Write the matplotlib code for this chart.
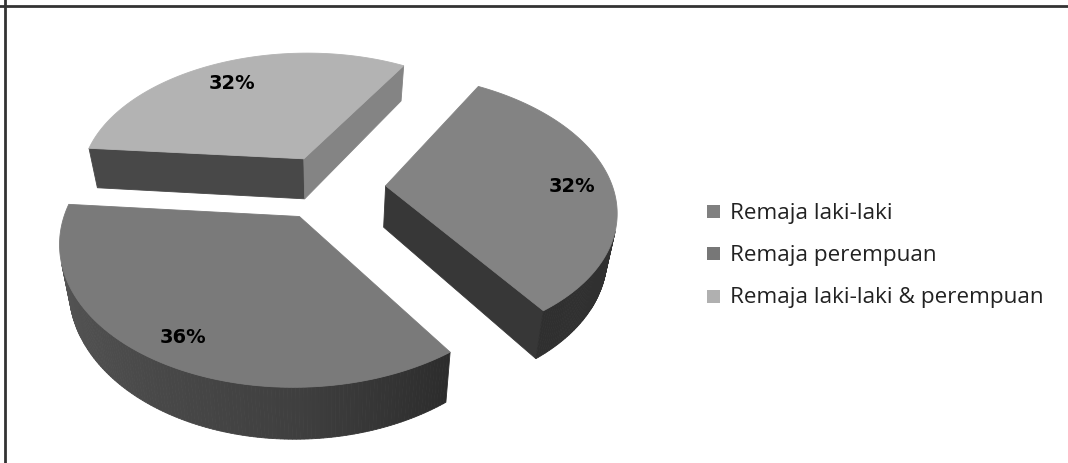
import numpy as np
import matplotlib
matplotlib.use("Agg")
import matplotlib.pyplot as plt
from matplotlib.patches import Polygon, Rectangle
from matplotlib.lines import Line2D

labels = ["Remaja laki-laki", "Remaja perempuan", "Remaja laki-laki & perempuan"]
values = [32, 36, 32]
top_colors = ["#838383", "#7a7a7a", "#b3b3b3"]
legend_colors = ["#808080", "#777777", "#b0b0b0"]

# view / geometry settings (pixels)
CX, CY = 329, 187      # pie centre on screen
R = 227                # radius
S = 0.58               # vertical squash of the tilted disc
P = 0.165              # perspective strength
H = 41.5               # thickness
K = 0.965              # vertical edges lean inwards towards the bottom
EXPLODE = 0.25
START = 59.8           # first slice starts here, slices run clockwise


def proj(x, y, z):
    # z = 0 top face, z = 1 bottom face
    w = 1 + P * y
    dx = R * x / w
    dy = -S * R * y / w
    if z:
        dx, dy = dx * K, dy + H / w
    return CX + dx, CY + dy


def shade(hexcol, f):
    c = np.array(matplotlib.colors.to_rgb(hexcol))
    return tuple(np.clip(c * f, 0, 1))


def area(pts):
    pts = np.asarray(pts)
    x, y = pts[:, 0], pts[:, 1]
    return np.sum(x * np.roll(y, -1) - np.roll(x, -1) * y)


def rim_factor(phi):
    phi = (phi + 180) % 360 - 180
    return np.interp(phi, [-180, -90, -55, 0, 180], [0.74, 0.52, 0.36, 0.38, 0.74])


def side_factor(phi):
    phi = (phi + 180) % 360 - 180
    return np.interp(phi, [-180, -145, -95, -30, 0, 180], [0.45, 0.42, 0.40, 0.74, 0.8, 0.45])


fig = plt.figure(figsize=(10.68, 4.63), dpi=100)
ax = fig.add_axes([0, 0, 1, 1])
ax.set_xlim(0, 1068)
ax.set_ylim(463, 0)
ax.axis("off")

total = sum(values)
slices = []
a = START
for i, v in enumerate(values):
    sweep = 360 * v / total
    a0, a1 = a, a - sweep
    mid = np.radians((a0 + a1) / 2)
    ox, oy = EXPLODE * np.cos(mid), EXPLODE * np.sin(mid)
    slices.append((i, a0, a1, ox, oy))
    a = a1

# back slices first
slices.sort(key=lambda s: -s[4])

for i, a0, a1, ox, oy in slices:
    base = top_colors[i]
    faces = []

    # radial side faces
    r0 = np.radians(a0)
    r1 = np.radians(a1)
    pa = (ox + np.cos(r0), oy + np.sin(r0))
    pb = (ox + np.cos(r1), oy + np.sin(r1))
    f0 = [proj(*pa, 0), proj(ox, oy, 0), proj(ox, oy, 1), proj(*pa, 1)]
    f1 = [proj(ox, oy, 0), proj(*pb, 0), proj(*pb, 1), proj(ox, oy, 1)]
    for pts, phi in ((f0, a0 + 90), (f1, a1 - 90)):
        if area(pts) > 0:
            faces.append((pts, shade(base, side_factor(phi))))

    # curved outer rim, split into thin strips
    th = np.linspace(a1, a0, 160)
    for t0, t1 in zip(th[:-1], th[1:]):
        q0, q1 = np.radians(t0), np.radians(t1)
        p0 = (ox + np.cos(q0), oy + np.sin(q0))
        p1 = (ox + np.cos(q1), oy + np.sin(q1))
        pts = [proj(*p0, 0), proj(*p1, 0), proj(*p1, 1), proj(*p0, 1)]
        if area(pts) > 0:
            faces.append((pts, shade(base, rim_factor((t0 + t1) / 2))))

    for pts, col in faces:
        ax.add_patch(Polygon(pts, closed=True, facecolor=col, edgecolor=col, lw=0.6))

    # top face
    arc = np.radians(np.linspace(a0, a1, 200))
    top = [proj(ox, oy, 0)] + [proj(ox + np.cos(t), oy + np.sin(t), 0) for t in arc]
    ax.add_patch(Polygon(top, closed=True, facecolor=base, edgecolor=base, lw=0.6))

    # percentage label
    mid = np.radians((a0 + a1) / 2)
    lx, ly = proj(ox + 0.83 * np.cos(mid), oy + 0.83 * np.sin(mid), 0)
    ax.text(lx, ly + 5, f"{values[i] / total * 100:.0f}%", ha="center", va="center",
            fontsize=14, fontweight="bold", family="DejaVu Sans", color="black")

# legend
for k, (lab, col) in enumerate(zip(labels, legend_colors)):
    y = 211 + 42.5 * k
    ax.add_patch(Rectangle((707, y - 6.5), 13, 13, facecolor=col, edgecolor="none"))
    ax.text(730, y + 2, lab, ha="left", va="center", fontsize=16.2,
            family="Open Sans", color="#222222")

# frame lines along top and left
ax.add_line(Line2D([5, 5], [0, 463], color="#333333", lw=2))
ax.add_line(Line2D([0, 1068], [6, 6], color="#333333", lw=2))

fig.savefig("out.png", dpi=100)
